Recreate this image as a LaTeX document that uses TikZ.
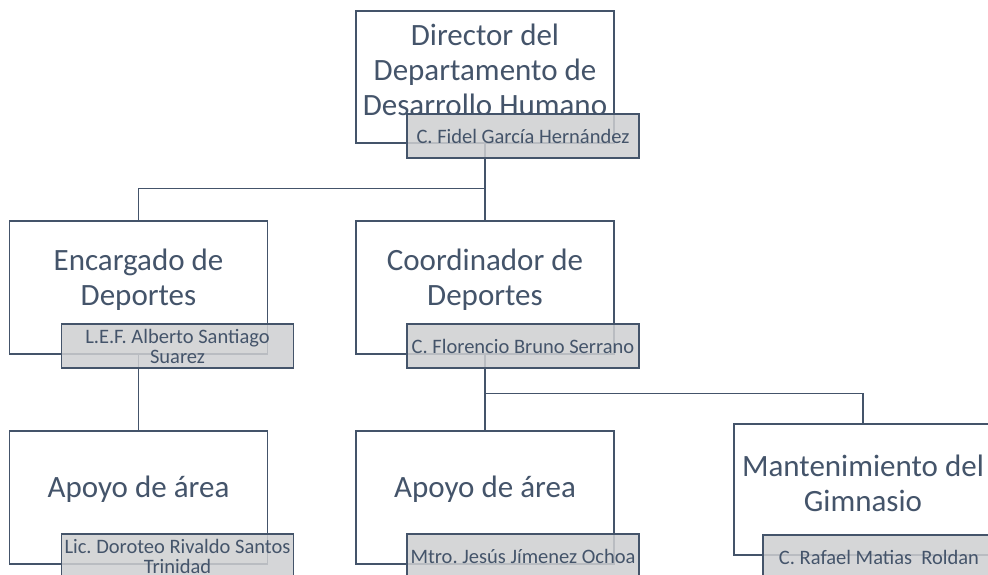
\documentclass[tikz,border=0pt]{standalone}
\usepackage{fontspec}
\setmainfont{Carlito}
\usetikzlibrary{calc}
\definecolor{pizarra}{RGB}{68,84,106}
\definecolor{gris}{RGB}{206,207,209}
\frenchspacing

\begin{document}
\begin{tikzpicture}[x=1pt,y=-1pt,
	puesto/.style={draw=pizarra, line width=1.4pt, fill=white, minimum width=258pt, minimum height=133pt, inner sep=0pt},
	titulo/.style={text=pizarra, align=center, font=\fontsize{31}{35}\selectfont, inner sep=0pt},
	nombre/.style={draw=pizarra, line width=1.2pt, fill=gris, fill opacity=0.85, text opacity=1, text=pizarra, minimum width=232pt, minimum height=44pt, align=center, font=\fontsize{20.5}{20}\selectfont, inner sep=1pt},
	enlace/.style={draw=pizarra, line width=1.4pt}]
			%%%%% START %%%%%
			
			\useasboundingbox (0,0) rectangle (988,575);
			\clip (0,0) rectangle (988,575);
			
			% cajas de puestos
			\node[puesto, minimum height=132pt] (dir) at (485,77) {};
			\node[puesto] (enc) at (138.5,287.5) {};
			\node[puesto] (coo) at (485,287.5) {};
			\node[puesto] (apl) at (138.5,497.5) {};
			\node[puesto] (apm) at (485,497.5) {};
			\node[puesto, minimum height=131pt] (man) at (863,489.5) {};
			
			% lineas
			\draw[enlace] (dir.south) -- ++(0,45) -| (enc.north);
			\draw[enlace] (dir.south) -- (coo.north);
			\draw[enlace] (enc.south) -- (apl.north);
			\draw[enlace] (coo.south) -- (apm.north);
			\draw[enlace] (coo.south) -- ++(0,39) -| (man.north);
			
			% titulos
			\node[titulo] (dir-t) at (485,70) {Director del\\Departamento de\\Desarrollo Humano};
			\node[titulo] (enc-t) at (138.5,280) {Encargado de\\Deportes};
			\node[titulo] (coo-t) at (485,280) {Coordinador de\\Deportes};
			\node[titulo] (apl-t) at (138.5,489) {Apoyo de área};
			\node[titulo] (apm-t) at (485,489) {Apoyo de área};
			\node[titulo] (man-t) at (863,483) {Mantenimiento del\\Gimnasio};
			
			% nombres
			\node[nombre] (dir-n) at (523,136) {C. Fidel García Hernández};
			\node[nombre] (enc-n) at (177.5,346) {L.E.F. Alberto Santiago\\Suarez};
			\node[nombre] (coo-n) at (523,346) {C. Florencio Bruno Serrano};
			\node[nombre] (apl-n) at (177.5,556) {Lic. Doroteo Rivaldo Santos\\Trinidad};
			\node[nombre] (apm-n) at (523,556) {Mtro. Jesús Jímenez Ochoa};
			\node[nombre] (man-n) at (879,557) {C. Rafael Matias\ \ Roldan};
			
			%%%%% END %%%%%
		\end{tikzpicture}
\end{document}
